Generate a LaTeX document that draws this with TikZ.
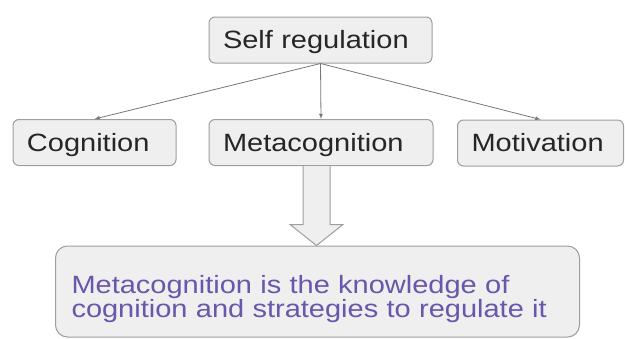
\documentclass[tikz,border=0pt]{standalone}
\usepackage{fontspec}
\setmainfont[FakeStretch=1.16]{Liberation Sans}
\usetikzlibrary{calc}
\usetikzlibrary{arrows.meta}
\tikzset{>=latex}
\definecolor{boxfill}{RGB}{239,239,239}
\definecolor{boxline}{RGB}{158,158,158}
\definecolor{linkcol}{RGB}{118,118,118}
\definecolor{notecol}{RGB}{106,86,170}
\tikzset{
  concept/.style={draw=boxline, fill=boxfill, line width=1pt, rounded corners=6pt,
    minimum height=46pt, inner xsep=14pt, inner ysep=0pt, text width=#1, align=left,
    text height=17.9pt, text depth=0pt, text=black!85, font=\fontsize{25}{30}\selectfont},
  note/.style={draw=boxline, fill=boxfill, line width=1pt, rounded corners=12pt,
    minimum height=91pt, inner xsep=16pt, text width=#1, align=left,
    text height=18pt, text depth=15pt, text=notecol, font=\fontsize{25}{24}\selectfont},
  link/.style={->, linkcol, line width=0.8pt},
  blockarrow/.style={draw=boxline, fill=boxfill, line width=1pt, line join=miter},
}

\begin{document}
\begin{tikzpicture}[x=1pt, y=-1pt]
  % --- Definitions ---
  \def\shaftW{13.5}  % half width of the arrow shaft
  \def\headW{26.5}   % half width of the arrow head
  \def\headL{21}     % length of the arrow head

  \useasboundingbox (0,0) rectangle (625,338);

  % --- 1. Concept boxes ---
  \node[concept=195pt] (self) at (320.5,40) {Self regulation};
  \node[concept=135pt] (cog)  at (94.5,142.5) {Cognition};
  \node[concept=196pt] (meta) at (321,142.5) {Metacognition};
  \node[concept=138pt] (mot)  at (540.5,143) {Motivation};

  % --- 2. Links from the top box ---
  \draw[link] (self.south) -- (cog.north);
  \draw[link] (self.south) -- (meta.north);
  \draw[link] (self.south) -- (mot.north);

  % --- 3. Definition box ---
  \node[note=492pt] (def) at (317.5,291.5)
    {Metacognition is the knowledge of\\cognition and strategies to regulate it};

  % --- 4. Block arrow down to the definition ---
  \coordinate (arrTop) at ($(meta.south)+(-4.5,0)$);
  \coordinate (arrTip) at (arrTop |- def.north);
  \draw[blockarrow]
    ($(arrTop)+(-\shaftW,0)$) -- ($(arrTip)+(-\shaftW,-\headL)$)
    -- ($(arrTip)+(-\headW,-\headL)$) -- (arrTip)
    -- ($(arrTip)+(\headW,-\headL)$) -- ($(arrTip)+(\shaftW,-\headL)$)
    -- ($(arrTop)+(\shaftW,0)$);

\end{tikzpicture}
\end{document}
